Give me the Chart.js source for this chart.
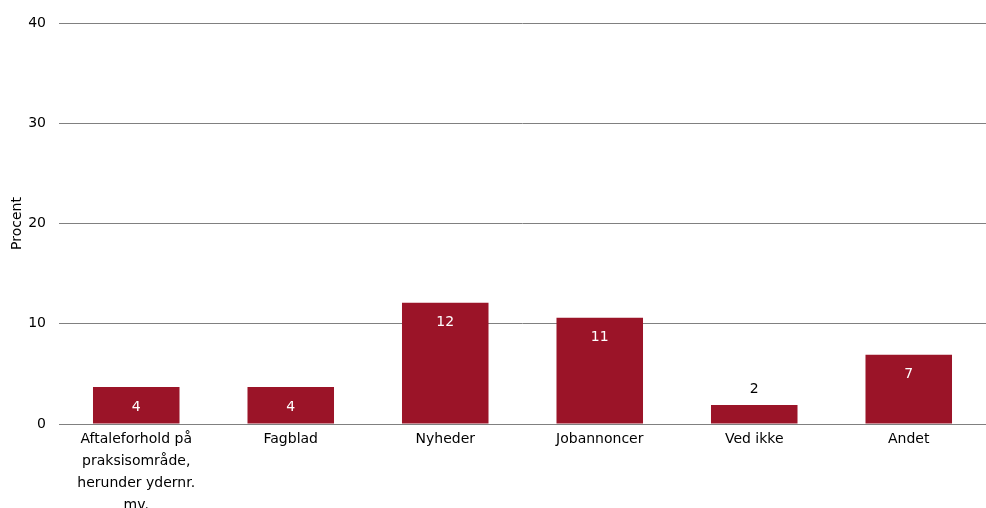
<!DOCTYPE html>
<html>
<head>
<meta charset="utf-8">
<script src="https://cdn.jsdelivr.net/npm/chart.js@4/dist/chart.umd.min.js"></script>
<style>
  html, body { margin: 0; padding: 0; background: #fff; }
  #wrap { width: 986px; height: 508px; }
</style>
</head>
<body>
<div id="wrap"><canvas id="chart" width="986" height="508"></canvas></div>
<script>
// Categories (multi-line where the original wraps)
const categories = [
  ["Aftaleforhold på", "praksisområde,", "herunder ydernr.", "mv."],
  "Fagblad",
  "Nyheder",
  "Jobannoncer",
  "Ved ikke",
  "Andet"
];
// Percent values
const values = [3.7, 3.7, 12.1, 10.6, 1.9, 6.9];
const yTicks = [0, 10, 20, 30, 40];

const barColor = "#9b1428";
const fontFamily = "'DejaVu Sans', Verdana, sans-serif";

// Simple value labels: inside the bar (white) or above it when the bar is too short
const valueLabels = {
  id: "valueLabels",
  afterDatasetsDraw(chart) {
    const ctx = chart.ctx;
    const meta = chart.getDatasetMeta(0);
    ctx.save();
    ctx.font = "14px " + fontFamily;
    ctx.textAlign = "center";
    ctx.textBaseline = "middle";
    meta.data.forEach((bar, i) => {
      const txt = String(Math.round(values[i]));
      const h = bar.base - bar.y;
      if (h > 30) {
        ctx.fillStyle = "#ffffff";
        ctx.fillText(txt, bar.x, bar.y + 20);
      } else {
        ctx.fillStyle = "#000000";
        ctx.fillText(txt, bar.x, bar.y - 16);
      }
    });
    ctx.restore();
  }
};

const ctx = document.getElementById("chart").getContext("2d");
new Chart(ctx, {
  type: "bar",
  data: {
    labels: categories,
    datasets: [{
      data: values,
      backgroundColor: barColor,
      borderWidth: 0,
      barPercentage: 0.56,
      categoryPercentage: 1.0
    }]
  },
  options: {
    responsive: false,
    animation: false,
    layout: { padding: { top: 23, right: 0, left: 2, bottom: 0 } },
    plugins: {
      legend: { display: false },
      tooltip: { enabled: false }
    },
    scales: {
      x: {
        grid: { display: false, drawTicks: false },
        border: { color: "#808080", width: 1 },
        ticks: {
          color: "#000",
          font: { family: fontFamily, size: 14, lineHeight: 1.55 },
          padding: 5,
          maxRotation: 0,
          autoSkip: false
        },
        afterFit(scale) {
          scale.height = 84;
        }
      },
      y: {
        min: 0,
        max: 40,
        afterBuildTicks(axis) {
          axis.ticks = yTicks.map(v => ({ value: v }));
        },
        grid: { color: "#808080", drawTicks: false },
        border: { display: false },
        ticks: {
          color: "#000",
          font: { family: fontFamily, size: 14 },
          padding: 13
        },
        title: {
          display: true,
          text: "Procent",
          color: "#000",
          font: { family: fontFamily, size: 14 },
          padding: { top: 7, bottom: 0 }
        },
        afterFit(scale) {
          scale.width = 57;
        }
      }
    }
  },
  plugins: [valueLabels]
});
</script>
</body>
</html>
